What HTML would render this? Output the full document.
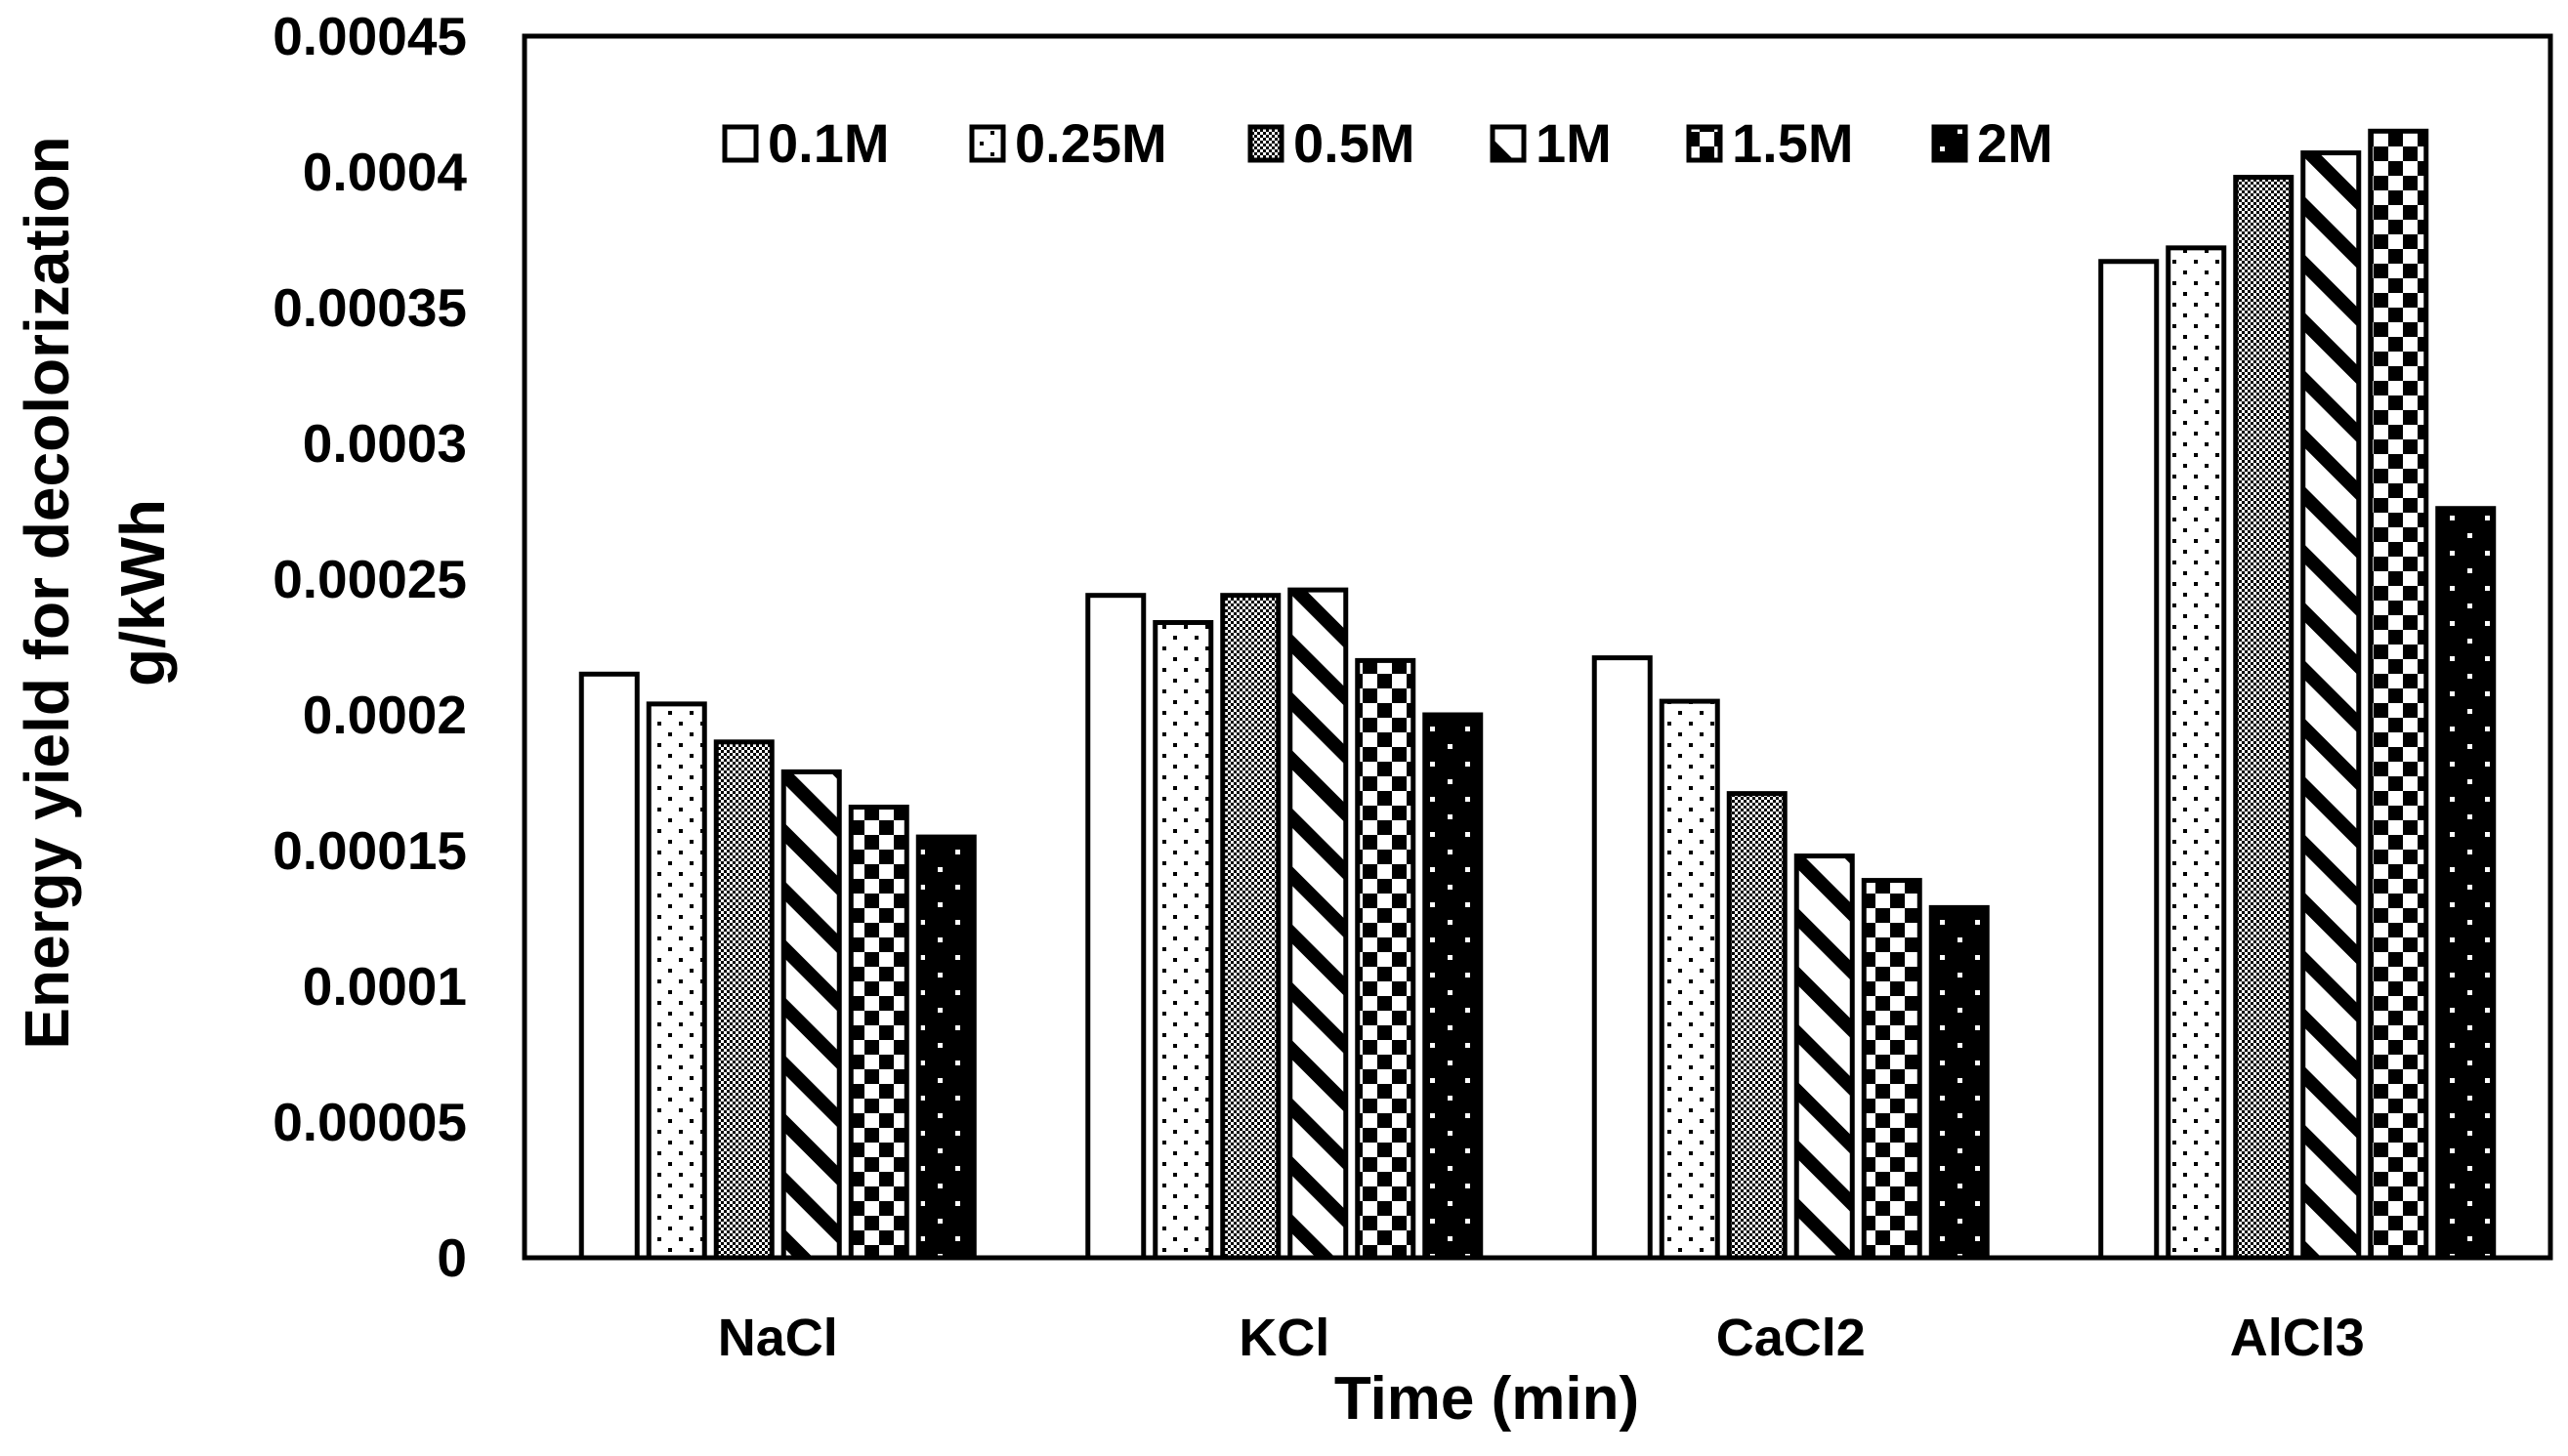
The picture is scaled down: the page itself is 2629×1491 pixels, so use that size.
<!DOCTYPE html>
<html><head><meta charset="utf-8"><style>
html,body{margin:0;padding:0;background:#fff;}
svg text{font-family:"Liberation Sans",sans-serif;font-weight:bold;fill:#000;}
</style></head><body>
<svg id="chart" width="2629" height="1486" viewBox="0 0 2629 1486" xmlns="http://www.w3.org/2000/svg">
<defs>
<pattern id="p0" width="10" height="10" patternUnits="userSpaceOnUse"><rect width="10" height="10" fill="#fff"/></pattern>
<pattern id="p1" width="22" height="22" patternUnits="userSpaceOnUse"><rect width="22" height="22" fill="#fff"/><rect x="2" y="2" width="4" height="4" fill="#000"/><rect x="13" y="13" width="4" height="4" fill="#000"/></pattern>
<pattern id="p2" width="6" height="6" patternUnits="userSpaceOnUse"><rect width="6" height="6" fill="#fff"/><rect width="3" height="3" fill="#000"/><rect x="3" y="3" width="3" height="3" fill="#000"/></pattern>
<pattern id="p3" width="42" height="42" patternUnits="userSpaceOnUse" patternTransform="rotate(-45)"><rect width="42" height="42" fill="#fff"/><rect width="14" height="42" fill="#000"/></pattern>
<pattern id="p4" width="30" height="30" patternUnits="userSpaceOnUse"><rect width="30" height="30" fill="#fff"/><rect width="15" height="15" fill="#000"/><rect x="15" y="15" width="15" height="15" fill="#000"/></pattern>
<pattern id="p5" width="36" height="36" patternUnits="userSpaceOnUse"><rect width="36" height="36" fill="#000"/><rect x="6" y="6" width="5" height="5" fill="#fff"/><rect x="24" y="24" width="5" height="5" fill="#fff"/></pattern>
</defs>
<g id="bars"></g>
<rect x="537" y="37" width="2074" height="1251" fill="none" stroke="#000" stroke-width="5"/>
<g id="yticks"></g>
<g id="xlabels"></g>
<g id="legend"></g>
<text x="1522" y="1453" font-size="62" text-anchor="middle">Time (min)</text>
<g transform="translate(50,607) rotate(-90)">
<text x="0" y="20" font-size="64" text-anchor="middle">Energy yield for decolorization</text>
<text x="0" y="118" font-size="64" text-anchor="middle">g/kWh</text>
</g>
</svg>
<script>
const categories = ["NaCl","KCl","CaCl2","AlCl3"];
const seriesNames = ["0.1M","0.25M","0.5M","1M","1.5M","2M"];
const s01 = [0.000215,0.000244,0.000221,0.000367];
const s025 = [0.000204,0.000234,0.000205,0.000372];
const s05 = [0.000190,0.000244,0.000171,0.000398];
const s1 = [0.000179,0.000246,0.000148,0.000407];
const s15 = [0.000166,0.000220,0.000139,0.000415];
const s2 = [0.000155,0.000200,0.000129,0.000276];
const yTicks = ["0","0.00005","0.0001","0.00015","0.0002","0.00025","0.0003","0.00035","0.0004","0.00045"];
const yTickValues = [0,0.00005,0.0001,0.00015,0.0002,0.00025,0.0003,0.00035,0.0004,0.00045];

const NS="http://www.w3.org/2000/svg";
const X0=537,X1=2611,Y0=1288,Y1=37,YMAX=0.00045;
const series=[s01,s025,s05,s1,s15,s2];
function yScale(v){return Y0-(v/YMAX)*(Y0-Y1);}
const catW=(X1-X0)/categories.length;
function xCat(i){return X0+catW*(i+0.5);}
const step=69,bw=57;
function mk(tag,attrs,parent){const e=document.createElementNS(NS,tag);for(const k in attrs)e.setAttribute(k,attrs[k]);parent.appendChild(e);return e;}
const gb=document.getElementById('bars');
series.forEach((s,si)=>{s.forEach((v,ci)=>{
 const x=xCat(ci)+(si-2.5)*step-bw/2;const y=yScale(v);
 const r=mk('rect',{x:x,y:y,width:bw,height:Y0-y,fill:'url(#p'+si+')',stroke:'#000','stroke-width':5},gb);
 
 
});});
const gy=document.getElementById('yticks');
yTickValues.forEach((v,i)=>{
 const t=mk('text',{x:478,y:yScale(v)+19,'font-size':55,'text-anchor':'end'},gy);
 t.textContent=yTicks[i];
 
 
});
const gx=document.getElementById('xlabels');
categories.forEach((c,i)=>{
 const t=mk('text',{x:xCat(i),y:1388,'font-size':54,'text-anchor':'middle'},gx);
 t.textContent=c;
 
 
});
const gl=document.getElementById('legend');
const lx=[742,995,1280,1528,1729,1980];
seriesNames.forEach((n,i)=>{
 const g=mk('g',{},gl);
 
 
 mk('rect',{x:lx[i],y:130,width:32,height:34,fill:'url(#p'+i+')',stroke:'#000','stroke-width':5},g);
 const t=mk('text',{x:lx[i]+44,y:166,'font-size':56},g);
 t.textContent=n;
});
</script>
</body></html>
